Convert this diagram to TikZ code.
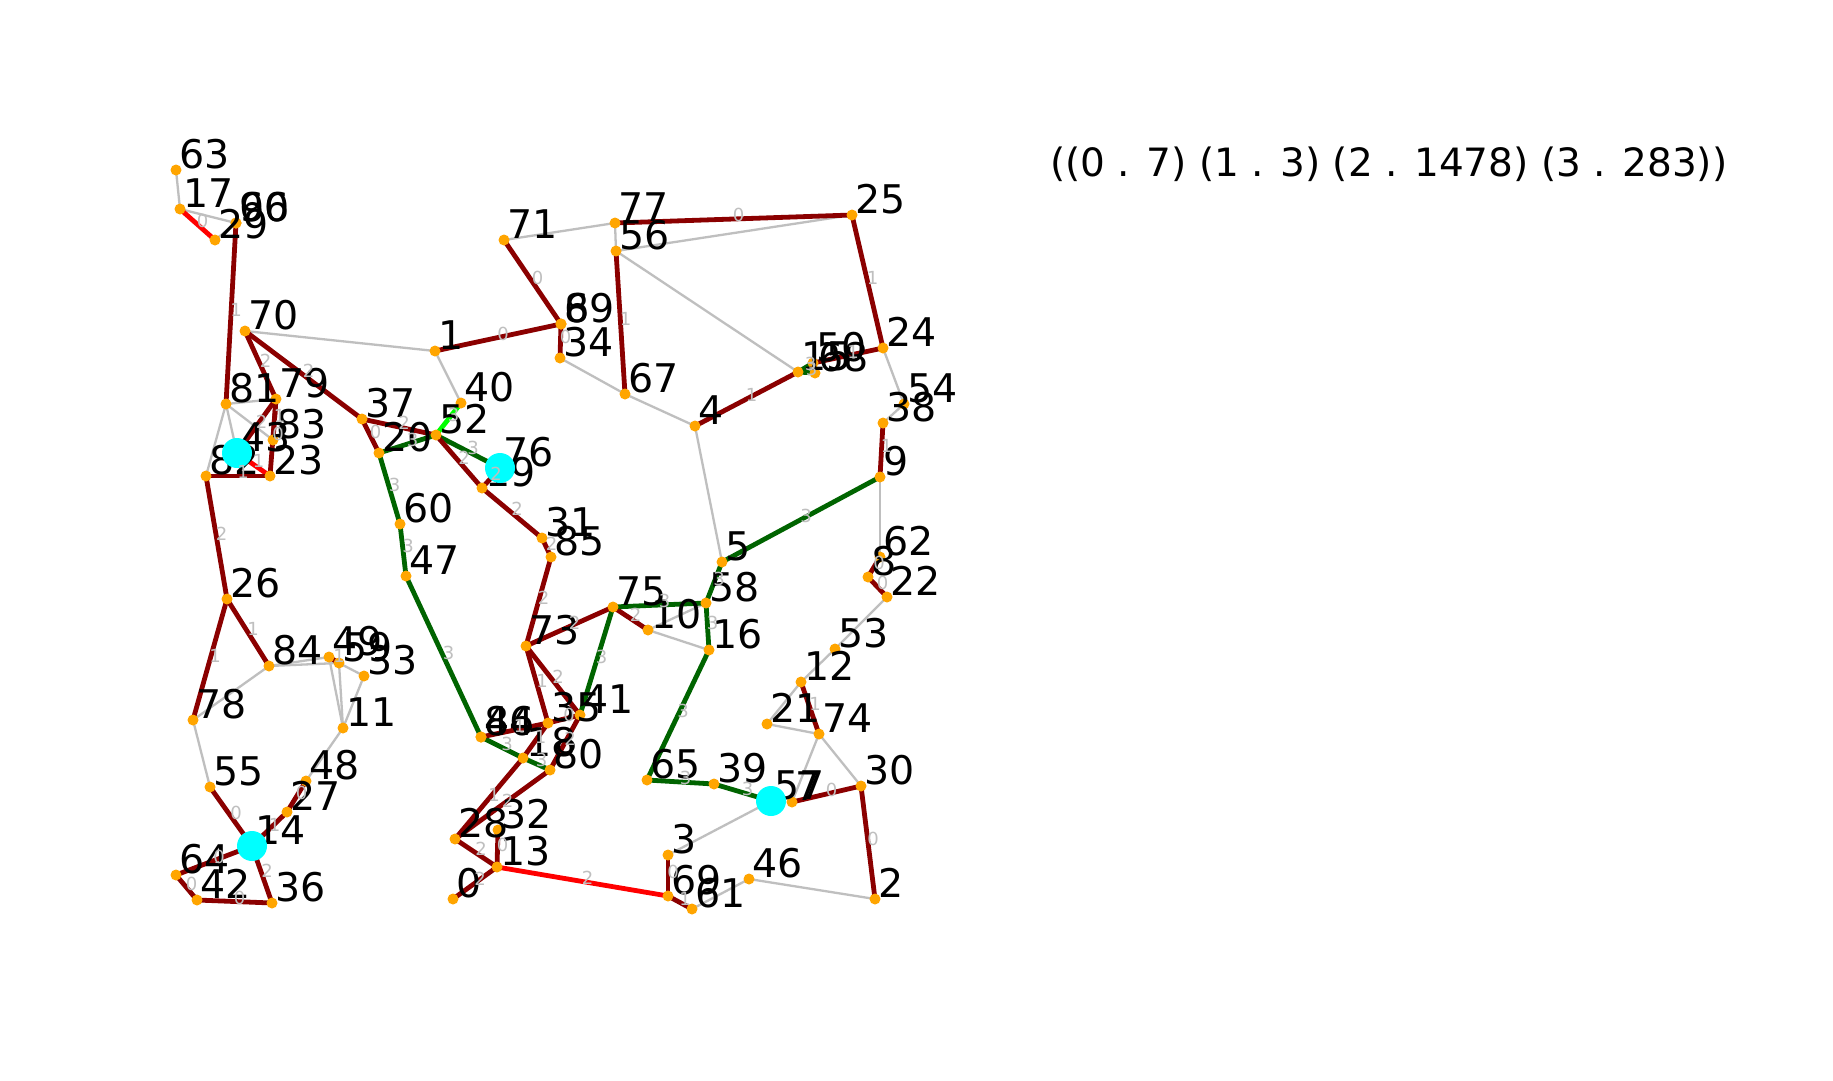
\documentclass[tikz,border=0pt]{standalone}
\usepackage{fontspec}
\setmainfont{DejaVu Sans}
\pgfdeclarelayer{edges}
\pgfdeclarelayer{cy}
\pgfdeclarelayer{el}
\pgfsetlayers{edges,main,cy,el}
\definecolor{egray}{HTML}{BFBFBF}
\definecolor{edred}{HTML}{8B0000}
\definecolor{edgreen}{HTML}{006400}
\definecolor{elime}{HTML}{00FF00}
\definecolor{eorange}{HTML}{FFA500}
\definecolor{ecyan}{HTML}{00FFFF}
\begin{document}
\begin{tikzpicture}[x=1pt,y=-1pt,
  vert/.style={circle,fill=eorange,draw=none,inner sep=0pt,minimum size=11pt},
  cyanc/.style={circle,fill=ecyan,draw=none,inner sep=0pt,minimum size=30pt},
  nlab/.style={anchor=base west,inner sep=0pt,font=\fontsize{39.5}{42}\selectfont},
  elab/.style={inner sep=0pt,text=egray,font=\fontsize{18}{20}\selectfont,xshift=5pt,yshift=4pt},
  egr/.style={draw=egray,line width=2.3pt},
  edr/.style={draw=edred,line width=4.8pt},
  erd/.style={draw=red,line width=4.8pt},
  edg/.style={draw=edgreen,line width=4.8pt},
  elm/.style={draw=elime,line width=4.8pt}]
\useasboundingbox (0,0) rectangle (1833,1080);
\begin{pgfonlayer}{edges}
\fill[white] (0,0) rectangle (1833,1080);
\end{pgfonlayer}
% vertices
\foreach \n/\x/\y in {63/176/170, 17/180/209, 29/215/240, 66/236/223, 90/236/223, 70/245/331,
 1/435/351, 71/504/240, 77/615/223, 56/616/251, 6/561/324, 89/561/324, 34/560/358, 67/625/394,
 40/461/403, 4/695/426, 25/852/215, 24/883/348, 15/798/372, 50/813/363, 68/815/373, 54/904/404,
 38/883/423, 81/226/404, 79/276/399, 83/273/440, 43/237/453, 82/206/476, 23/270/476, 37/362/419,
 20/379/453, 52/436/435, 60/400/524, 47/406/576, 26/227/599, 76/500/468, 19/482/488, 31/542/538,
 85/551/557, 73/526/646, 75/613/607, 10/648/630, 58/706/603, 16/709/650, 5/722/562, 35/548/723,
 41/580/715, 18/523/758, 80/550/770, 86/481/737, 44/481/737, 9/880/477, 62/880/557, 8/868/577,
 22/887/597, 53/835/649, 12/801/682, 21/767/724, 74/819/734, 30/861/786, 57/771/801, 7/792/802,
 39/714/784, 65/647/780, 3/668/855, 69/668/896, 61/692/909, 46/749/879, 2/875/899, 28/455/839,
 32/498/830, 13/497/867, 0/453/899, 84/269/666, 49/329/657, 59/339/663, 33/364/676, 11/343/728,
 78/193/720, 55/210/787, 48/306/781, 27/287/812, 14/252/846, 64/176/875, 42/197/900, 36/272/903}
 {\node[vert] (n\n) at (\x,\y) {};}
% gray edges
\begin{pgfonlayer}{edges}
\foreach \a/\b in {63/17, 17/66, 29/90, 70/1, 1/40, 71/77, 77/56, 56/25, 56/15, 34/67, 67/4, 4/5,
 24/54, 54/38, 9/62, 22/53, 53/12, 12/21, 21/74, 74/7, 74/30, 2/46, 46/61, 57/3, 10/58, 10/16,
 81/79, 81/83, 81/43, 81/82, 84/78, 84/49, 84/59, 49/11, 59/11, 59/33, 33/11, 11/48, 78/55}
 {\draw[egr] (n\a.center) -- (n\b.center);}
\end{pgfonlayer}
\def\cedges{17/29/erd/0, 66/81/edr/1, 70/79/edr/2, 70/37/edr/2, 1/6/edr/0, 71/6/edr/0, 6/34/edr/0,
 56/67/edr/1, 77/25/edr/0, 25/24/edr/1, 50/24/edr/1, 4/15/edr/1, 15/68/edg/3, 15/50/edg/3,
 38/9/edr/1, 62/8/edr/0, 8/22/edr/0, 79/83/edr/1, 79/23/edr/0, 79/43/edr/2, 43/23/erd/1,
 82/23/edr/1, 82/26/edr/2, 37/20/edr/0, 37/52/edr/2, 20/52/edg/3, 52/40/elm/3, 52/76/edg/3,
 52/19/edr/2, 19/76/edr/2, 19/31/edr/2, 31/85/edr/2, 85/73/edr/2, 20/60/edg/3, 60/47/edg/3,
 47/86/edg/3, 86/18/edg/3, 18/80/edg/3, 86/35/edr/1, 35/18/edr/1, 35/41/edr/0, 41/80/edr/2,
 73/35/edr/1, 73/41/edr/2, 73/75/edr/2, 75/10/edr/2, 75/58/edg/3, 75/41/edg/3, 5/58/edg/3,
 58/16/edg/3, 5/9/edg/3, 16/65/edg/3, 65/39/edg/3, 39/57/edg/3, 18/28/edr/1, 80/28/edr/2,
 28/13/edr/2, 32/13/edr/0, 13/0/edr/2, 13/69/erd/2, 3/69/edr/0, 69/61/edr/1, 12/74/edr/1,
 7/30/edr/0, 30/2/edr/0, 26/78/edr/1, 26/84/edr/1, 49/59/edr/1, 48/27/edr/0, 27/14/edr/1,
 55/14/edr/0, 14/64/edr/0, 14/36/edr/2, 64/42/edr/0, 42/36/edr/0}
\begin{pgfonlayer}{edges}
\foreach \a/\b/\c/\w in \cedges {\draw[\c] (n\a.center) -- (n\b.center);}
\end{pgfonlayer}
\begin{pgfonlayer}{el}
\foreach \a/\b/\c/\w in \cedges {\path (n\a.center) -- (n\b.center) node[elab,midway] {\w};}
\end{pgfonlayer}
% vertex labels
\foreach \n in {63,17,29,66,90,70,1,71,77,56,6,89,34,67,40,4,25,24,15,50,68,54,38,81,79,83,43,82,
 23,37,20,52,60,47,26,76,19,31,85,73,75,10,58,16,5,35,41,18,80,86,44,9,62,8,22,53,12,21,74,30,57,
 7,39,65,3,69,61,46,2,28,32,13,0,84,49,59,33,11,78,55,48,27,14,64,42,36}
 {\node[nlab] (l\n) at ([shift={(3,-2)}]n\n.center) {\n};}
% highlighted vertices
\begin{pgfonlayer}{cy}
\foreach \n in {43,76,14,57} {\node[cyanc] (c\n) at (n\n.center) {};}
\end{pgfonlayer}
\node[anchor=base west,inner sep=0pt,font=\fontsize{39}{42}\selectfont] (res) at (1050,176)
 {((0 . 7) (1 . 3) (2 . 1478) (3 . 283))};
\end{tikzpicture}
\end{document}
